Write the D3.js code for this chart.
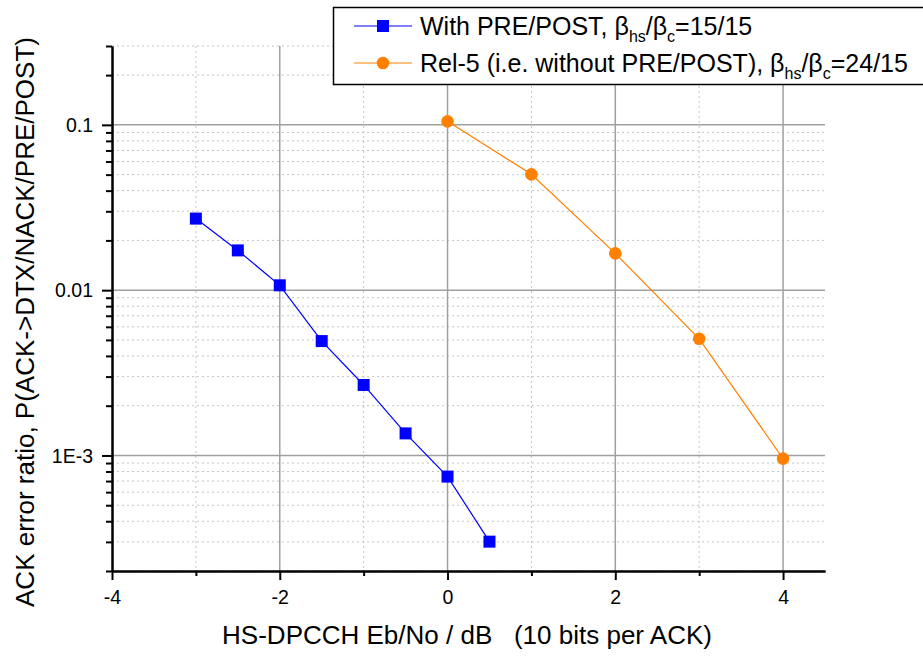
<!DOCTYPE html>
<html><head><meta charset="utf-8">
<script src="https://cdn.jsdelivr.net/npm/d3@7"></script>
<style>
html,body{margin:0;padding:0;background:#fff;}
svg{display:block;font-family:"Liberation Sans",Arial,sans-serif;}
</style></head>
<body>
<svg id="c" width="923" height="657"></svg>
<script>
// ---- data ----
const xPre = [-3, -2.5, -2, -1.5, -1, -0.5, 0, 0.5];
const yPre = [0.0271, 0.0174, 0.0107, 0.00492, 0.00267, 0.00136, 0.000745, 0.000301];
const xRel5 = [0, 1, 2, 3, 4];
const yRel5 = [0.105, 0.0502, 0.0167, 0.00508, 0.000957];
const xTicks = [-4, -2, 0, 2, 4];
const xTickLabels = ["-4", "-2", "0", "2", "4"];
const xMinorTicks = [-3, -1, 1, 3];
const yTicks = [0.1, 0.01, 0.001];
const yTickLabels = ["0.1", "0.01", "1E-3"];
const yMinorTicks = [0.0002,0.0003,0.0004,0.0005,0.0006,0.0007,0.0008,0.0009,
  0.002,0.003,0.004,0.005,0.006,0.007,0.008,0.009,
  0.02,0.03,0.04,0.05,0.06,0.07,0.08,0.09,0.2,0.3];
const xLabel = "HS-DPCCH Eb/No / dB   (10 bits per ACK)";
const yLabel = "ACK error ratio, P(ACK->DTX/NACK/PRE/POST)";

const svg = d3.select("#c");
const L = 112, R = 825, T = 46, B = 571;
const x = d3.scaleLinear().domain([-4, 4.5]).range([L, R]);
const y = d3.scaleLog().domain([0.0002, 0.3]).range([B, T]);

const g = svg.append("g");
// minor grid
g.selectAll(".ymg").data(yMinorTicks).enter().append("line")
  .attr("x1", L).attr("x2", R).attr("y1", d => y(d)).attr("y2", d => y(d))
  .attr("stroke", "#c4c4c4").attr("stroke-width", 1).attr("stroke-dasharray", "2,3");
g.selectAll(".xmg").data(xMinorTicks).enter().append("line")
  .attr("y1", T).attr("y2", B).attr("x1", d => x(d)).attr("x2", d => x(d))
  .attr("stroke", "#c4c4c4").attr("stroke-width", 1).attr("stroke-dasharray", "2,3");
// major grid
g.selectAll(".yg").data(yTicks).enter().append("line")
  .attr("x1", L).attr("x2", R).attr("y1", d => y(d)).attr("y2", d => y(d))
  .attr("stroke", "#a0a0a0").attr("stroke-width", 1.5);
g.selectAll(".xg").data(xTicks.filter(d => d > -4)).enter().append("line")
  .attr("y1", T).attr("y2", B).attr("x1", d => x(d)).attr("x2", d => x(d))
  .attr("stroke", "#a0a0a0").attr("stroke-width", 1.5);

// axes
const xAxis = d3.axisBottom(x).tickValues(xTicks).tickFormat((d,i) => xTickLabels[i]).tickSize(9).tickSizeOuter(0);
const xAxisMinor = d3.axisBottom(x).tickValues(xMinorTicks).tickFormat("").tickSize(5).tickSizeOuter(0);
const yAxis = d3.axisLeft(y).tickValues(yTicks).tickFormat((d,i) => yTickLabels[i]).tickSize(10).tickSizeOuter(0);
const yAxisMinor = d3.axisLeft(y).tickValues(yMinorTicks).tickFormat("").tickSize(6).tickSizeOuter(0);

function style(sel){
  sel.attr("font-family", null).attr("font-size", null);
  sel.select(".domain").attr("stroke", "#000").attr("stroke-width", 2);
  sel.selectAll(".tick line").attr("stroke", "#000").attr("stroke-width", 2);
  sel.selectAll(".tick text").attr("fill", "#000").style("font-size", "19.5px")
    .style("font-family", "'Liberation Sans',Arial,sans-serif");
}
svg.append("g").attr("transform", `translate(0,${B})`).call(xAxisMinor).call(style);
const gx = svg.append("g").attr("transform", `translate(0,${B})`).call(xAxis).call(style);
gx.selectAll(".tick text").attr("dy", null).attr("y", 33);
svg.append("g").attr("transform", `translate(${L},0)`).call(yAxisMinor).call(style);
const gy = svg.append("g").attr("transform", `translate(${L},0)`).call(yAxis).call(style);
gy.selectAll(".tick text").attr("x", -19).attr("dy", "0.35em");

// series
const line = d3.line().x(d => x(d[0])).y(d => y(d[1]));
const pre = xPre.map((v, i) => [v, yPre[i]]);
const rel = xRel5.map((v, i) => [v, yRel5[i]]);
svg.append("path").datum(pre).attr("d", line).attr("fill", "none").attr("stroke", "#0000ff").attr("stroke-width", 1.2);
svg.append("path").datum(rel).attr("d", line).attr("fill", "none").attr("stroke", "#ff8000").attr("stroke-width", 1.2);
const S = 12;
svg.selectAll(".sq").data(pre).enter().append("rect")
  .attr("x", d => x(d[0]) - S/2).attr("y", d => y(d[1]) - S/2).attr("width", S).attr("height", S)
  .attr("fill", "#0000ff");
svg.selectAll(".ci").data(rel).enter().append("circle")
  .attr("cx", d => x(d[0])).attr("cy", d => y(d[1])).attr("r", 6.3).attr("fill", "#ff8000");

// axis labels
svg.append("text").attr("x", 467).attr("y", 644).attr("text-anchor", "middle")
  .style("font-size", "26px").style("white-space", "pre").attr("fill", "#000").text(xLabel);
svg.append("text").attr("transform", "translate(34,322) rotate(-90)").attr("text-anchor", "middle")
  .style("font-size", "26px").attr("fill", "#000").text(yLabel);

// legend
const lg = svg.append("g");
lg.append("rect").attr("x", 333.5).attr("y", 7.5).attr("width", 620).attr("height", 77)
  .attr("fill", "#fff").attr("stroke", "#000").attr("stroke-width", 1.5);
const entries = [
  {color: "#0000ff", shape: "sq", pre: "With PRE/POST, ", val: "=15/15"},
  {color: "#ff8000", shape: "ci", pre: "Rel-5 (i.e. without PRE/POST), ", val: "=24/15"}
];
entries.forEach((e, i) => {
  const cy = 26 + i * 37;
  lg.append("line").attr("x1", 354).attr("x2", 412).attr("y1", cy).attr("y2", cy)
    .attr("stroke", e.color).attr("stroke-width", 1.2);
  if (e.shape === "sq") lg.append("rect").attr("x", 383 - 6).attr("y", cy - 6).attr("width", 12).attr("height", 12).attr("fill", e.color);
  else lg.append("circle").attr("cx", 383).attr("cy", cy).attr("r", 6.3).attr("fill", e.color);
  const t = lg.append("text").attr("x", 420).attr("y", cy + 9).style("font-size", "25px").attr("fill", "#000");
  t.append("tspan").text(e.pre + "β");
  t.append("tspan").attr("dy", 7).style("font-size", "16px").text("hs");
  t.append("tspan").attr("dy", -7).text("/β");
  t.append("tspan").attr("dy", 7).style("font-size", "16px").text("c");
  t.append("tspan").attr("dy", -7).text(e.val);
});
</script>
</body></html>
